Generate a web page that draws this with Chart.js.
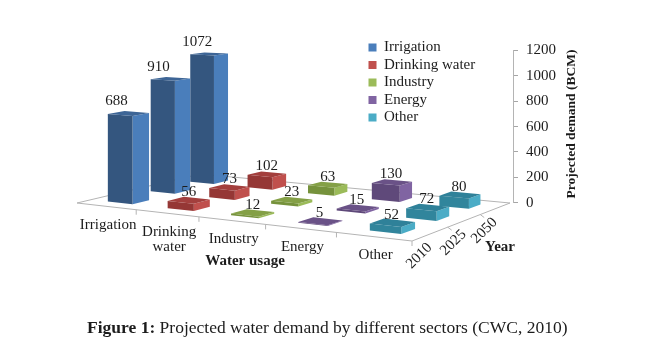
<!DOCTYPE html>
<html><head><meta charset="utf-8">
<style>html,body{margin:0;padding:0;background:#fff}canvas{display:block}</style>
<script src="https://cdn.jsdelivr.net/npm/chart.js@4"></script>
</head><body><canvas id="c" width="652" height="364"></canvas>
<script>
const years = ["2010", "2025", "2050"];
const sectorNames = ["Irrigation", "Drinking water", "Industry", "Energy", "Other"];
const sectorAxisLabels = ["Irrigation", ["Drinking", "water"], "Industry", "Energy", "Other"];
const irrigation = [688, 910, 1072];
const drinkingWater = [56, 73, 102];
const industry = [12, 23, 63];
const energy = [5, 15, 130];
const other = [52, 72, 80];
const seriesValues = [irrigation, drinkingWater, industry, energy, other];
const sideColors = ["#4a7ebb", "#c0504d", "#9bbb59", "#8064a2", "#4bacc6"];
const frontColors = ["#34567f", "#953735", "#76923c", "#5f497a", "#31859c"];
const topColors = ["#3d6596", "#a33f3d", "#84a046", "#6a5287", "#2f8199"];
const labelShift = [-12, 0, 0, -1, -1];
const SERIF = "'Liberation Serif', serif";
const INK = "#1c1c1c";

// floor plane of the 3-D view (perspective quad) on the page
const floor = {fl:[77,203], fr:[412,241], br:[510,203], bl:[200,174]};
const BAR_U = 0.42, BAR_V = 0.38;

function makeHomography(q){
  const [x0,y0]=q.fl,[x1,y1]=q.fr,[x2,y2]=q.br,[x3,y3]=q.bl;
  const sx=x0-x1+x2-x3, sy=y0-y1+y2-y3, dx1=x1-x2, dx2=x3-x2, dy1=y1-y2, dy2=y3-y2;
  const den=dx1*dy2-dx2*dy1;
  const g=(sx*dy2-dx2*sy)/den, h=(dx1*sy-sx*dy1)/den;
  const a=x1-x0+g*x1, b=x3-x0+h*x3, d=y1-y0+g*y1, e=y3-y0+h*y3;
  return (u,v)=>{const w=g*u+h*v+1;return [(a*u+b*v+x0)/w,(d*u+e*v+y0)/w];};
}
const floorPoint = makeHomography(floor);

function project(chart,u,v,val){
  const y=chart.scales.y;
  const p=floorPoint(u,v);
  const k=1.008+0.09*u-0.098*v;
  return [p[0],p[1]-(y.getPixelForValue(0)-y.getPixelForValue(val))*k];
}
function frac(scale,i){return (scale.getPixelForValue(i)-scale.left)/(scale.right-scale.left);}
function poly(ctx,pts,color){
  ctx.beginPath();pts.forEach((p,i)=>i?ctx.lineTo(p[0],p[1]):ctx.moveTo(p[0],p[1]));
  ctx.closePath();ctx.fillStyle=color;ctx.fill();
}

class Bar3DController extends Chart.BarController {
  draw(){
    const chart=this.chart, ctx=chart.ctx, s=this.index, meta=this.getMeta();
    const u=frac(chart.scales.s,s);
    ctx.save();
    for(let j=meta.data.length-1;j>=0;j--){
      const val=this.getParsed(j).y, v=frac(chart.scales.x,j);
      const u0=u-BAR_U/10,u1=u+BAR_U/10,v0=v-BAR_V/6,v1=v+BAR_V/6;
      const P=(a,b,c)=>project(chart,a,b,c);
      poly(ctx,[P(u1,v0,0),P(u1,v1,0),P(u1,v1,val),P(u1,v0,val)],sideColors[s]);
      poly(ctx,[P(u0,v0,0),P(u1,v0,0),P(u1,v0,val),P(u0,v0,val)],frontColors[s]);
      poly(ctx,[P(u0,v0,val),P(u1,v0,val),P(u1,v1,val),P(u0,v1,val)],topColors[s]);
    }
    ctx.restore();
  }
}
Bar3DController.id="bar3d";
Bar3DController.defaults=Chart.BarController.defaults;
Bar3DController.overrides=Chart.BarController.overrides;
Chart.register(Bar3DController);

const scene={
  id:"scene",
  afterLayout(chart){
    const l=chart.legend;
    l.left=366;l.top=37.5;l.right=560;l.bottom=142;
  },
  beforeDatasetsDraw(chart){
    const ctx=chart.ctx;
    ctx.save();
    ctx.strokeStyle="#b4b4b4";ctx.lineWidth=1;
    ctx.beginPath();
    const q=floor;
    ctx.moveTo(...q.bl);ctx.lineTo(...q.fl);ctx.lineTo(...q.fr);ctx.lineTo(...q.br);ctx.lineTo(...q.bl);
    for(let i=1;i<=sectorNames.length;i++){
      const p=floorPoint(i/sectorNames.length,0);
      ctx.moveTo(p[0],p[1]);ctx.lineTo(p[0],p[1]+5);
    }
    for(let j=1;j<years.length;j++){
      const p=floorPoint(1,j/years.length);
      ctx.moveTo(p[0],p[1]);ctx.lineTo(p[0]+4,p[1]+3);
    }
    ctx.stroke();
    ctx.restore();
  },
  afterDatasetsDraw(chart){
    const ctx=chart.ctx;
    ctx.save();
    ctx.fillStyle=INK;ctx.textAlign="center";ctx.textBaseline="middle";
    ctx.font="15px "+SERIF;
    // value labels
    chart.data.datasets.forEach((ds,s)=>{
      const u=frac(chart.scales.s,s);
      ds.data.forEach((val,j)=>{
        const p=project(chart,u,frac(chart.scales.x,j),val);
        ctx.fillText(String(val),p[0]+labelShift[s],p[1]-(s===0?12:8));
      });
    });
    // sector labels
    ctx.font="15px "+SERIF;
    const sc=chart.scales.s;
    sc.getLabels().forEach((lab,i)=>{
      const p=floorPoint(frac(sc,i),0);
      const lines=Array.isArray(lab)?lab:[lab];
      lines.forEach((t,k)=>ctx.fillText(t,p[0]+2,p[1]+18.5+k*15));
    });
    // year labels
    ctx.font="15px "+SERIF;
    chart.scales.x.getLabels().forEach((lab,j)=>{
      const p=floorPoint(1,frac(chart.scales.x,j));
      ctx.save();ctx.translate(p[0]-11,p[1]+22);ctx.rotate(-Math.PI/4);
      ctx.fillText(lab,0,0);ctx.restore();
    });
    // axis titles
    ctx.font="bold 15px "+SERIF;
    ctx.fillText("Water usage",245,261);
    ctx.fillText("Year",500,247);
    ctx.save();ctx.translate(572,124);ctx.rotate(-Math.PI/2);
    ctx.font="bold 13.5px "+SERIF;ctx.fillText("Projected demand (BCM)",0,0);ctx.restore();
    // caption
    ctx.textAlign="left";
    ctx.font="bold 17.5px "+SERIF;
    const cap1="Figure 1:";
    ctx.fillText(cap1,87,328);
    const w=ctx.measureText(cap1+" ").width;
    ctx.font="17.5px "+SERIF;
    ctx.fillText("Projected water demand by different sectors (CWC, 2010)",87+w,328);
    ctx.restore();
  }
};

new Chart(document.getElementById("c"),{
  data:{
    labels:years,
    datasets:sectorNames.map((name,i)=>({
      type:"bar3d",label:name,data:seriesValues[i],clip:false,
      backgroundColor:sideColors[i],borderWidth:0,xAxisID:"x",yAxisID:"y"
    }))
  },
  plugins:[scene],
  options:{
    responsive:false,animation:false,
    layout:{padding:{top:50.5,bottom:161.3,left:0,right:79}},
    scales:{
      x:{type:"category",labels:years,display:false,offset:true},
      s:{type:"category",axis:"x",labels:sectorAxisLabels,display:false,offset:true},
      y:{type:"linear",position:"right",min:0,max:1200,
        afterFit(sc){sc.width=60;},
        ticks:{stepSize:200,padding:8,color:INK,font:{family:SERIF,size:15},callback:v=>String(v)},
        grid:{drawOnChartArea:false,drawTicks:true,tickLength:5,color:"#a6a6a6"},
        border:{color:"#b4b4b4"}
      }
    },
    plugins:{
      tooltip:{enabled:false},
      title:{display:false},
      legend:{display:true,position:"chartArea",align:"start",
        labels:{boxWidth:8,boxHeight:8,padding:2.5,color:INK,font:{family:SERIF,size:15}}}
    }
  }
});
</script></body></html>
